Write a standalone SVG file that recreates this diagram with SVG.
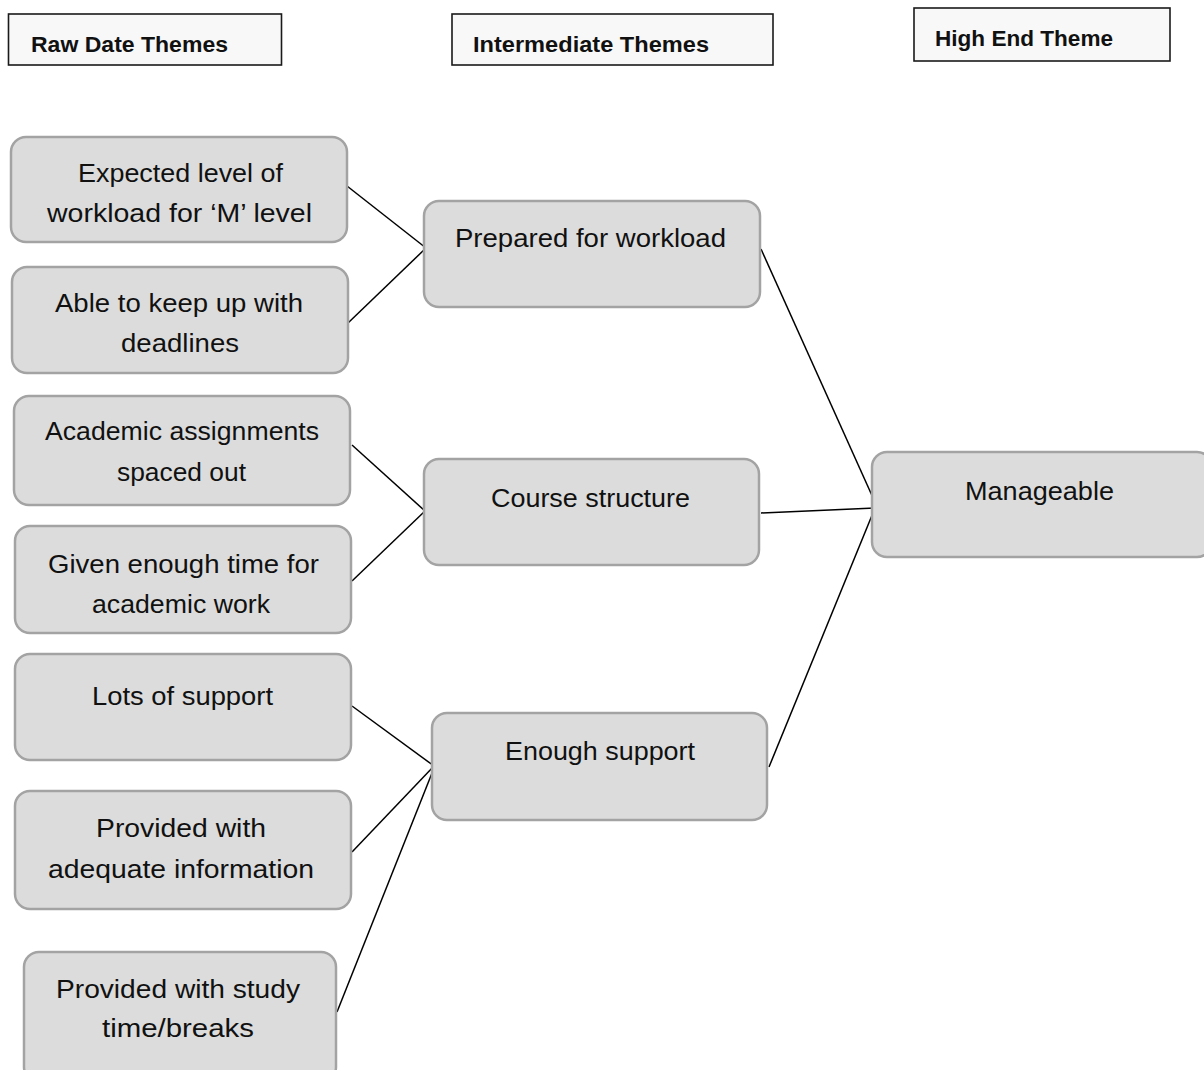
<svg xmlns="http://www.w3.org/2000/svg" width="1204" height="1070" viewBox="0 0 1204 1070">
<style>
.hdr{fill:#f8f8f8;stroke:#1a1a1a;stroke-width:1.6}
.hdrt{font-family:"Liberation Sans",Arial,sans-serif;font-weight:bold;font-size:22px;fill:#111}
.node{fill:#dcdcdc;stroke:#a3a3a3;stroke-width:2.5}
.t{font-family:"Liberation Sans",Arial,sans-serif;font-size:25px;fill:#111}
.c{stroke:#000;stroke-width:1.5;fill:none}
</style>
<rect width="1204" height="1070" fill="#fff"/>
<g id="h-raw"><rect class="hdr" x="8.5" y="14" width="273" height="51"/><text class="hdrt" x="31" y="52" textLength="197" lengthAdjust="spacingAndGlyphs">Raw Date Themes</text></g>
<g id="h-int"><rect class="hdr" x="452" y="14" width="321" height="51"/><text class="hdrt" x="473" y="52" textLength="236" lengthAdjust="spacingAndGlyphs">Intermediate Themes</text></g>
<g id="h-high"><rect class="hdr" x="914" y="8" width="256" height="53"/><text class="hdrt" x="935" y="46" textLength="178" lengthAdjust="spacingAndGlyphs">High End Theme</text></g>

<g id="connectors">
<line class="c" x1="347" y1="186" x2="426" y2="248"/>
<line class="c" x1="348" y1="323" x2="426" y2="248"/>
<line class="c" x1="352" y1="445" x2="425" y2="511"/>
<line class="c" x1="352" y1="581" x2="425" y2="511"/>
<line class="c" x1="352" y1="706" x2="434" y2="766"/>
<line class="c" x1="352" y1="852" x2="434" y2="766"/>
<line class="c" x1="337" y1="1012" x2="434" y2="768"/>
<line class="c" x1="761" y1="249" x2="874" y2="500"/>
<line class="c" x1="761" y1="513" x2="875" y2="508"/>
<line class="c" x1="769" y1="767" x2="875" y2="508"/>
</g>

<g id="n-expected"><rect class="node" x="11" y="137" width="336" height="105" rx="15"/>
<text class="t" x="78" y="182" textLength="205" lengthAdjust="spacingAndGlyphs">Expected level of</text>
<text class="t" x="47" y="222" textLength="265" lengthAdjust="spacingAndGlyphs">workload for ‘M’ level</text></g>
<g id="n-able"><rect class="node" x="12" y="267" width="336" height="106" rx="15"/>
<text class="t" x="55" y="312" textLength="248" lengthAdjust="spacingAndGlyphs">Able to keep up with</text>
<text class="t" x="121" y="352" textLength="118" lengthAdjust="spacingAndGlyphs">deadlines</text></g>
<g id="n-academic"><rect class="node" x="14" y="396" width="336" height="109" rx="15"/>
<text class="t" x="45" y="440" textLength="274" lengthAdjust="spacingAndGlyphs">Academic assignments</text>
<text class="t" x="117" y="481" textLength="129" lengthAdjust="spacingAndGlyphs">spaced out</text></g>
<g id="n-given"><rect class="node" x="15" y="526" width="336" height="107" rx="15"/>
<text class="t" x="48" y="573" textLength="271" lengthAdjust="spacingAndGlyphs">Given enough time for</text>
<text class="t" x="92" y="613" textLength="178" lengthAdjust="spacingAndGlyphs">academic work</text></g>
<g id="n-lots"><rect class="node" x="15" y="654" width="336" height="106" rx="15"/>
<text class="t" x="92" y="705" textLength="181" lengthAdjust="spacingAndGlyphs">Lots of support</text></g>
<g id="n-info"><rect class="node" x="15" y="791" width="336" height="118" rx="15"/>
<text class="t" x="96" y="837" textLength="170" lengthAdjust="spacingAndGlyphs">Provided with</text>
<text class="t" x="48" y="878" textLength="266" lengthAdjust="spacingAndGlyphs">adequate information</text></g>
<g id="n-study"><rect class="node" x="24" y="952" width="312" height="130" rx="15"/>
<text class="t" x="56" y="998" textLength="244" lengthAdjust="spacingAndGlyphs">Provided with study</text>
<text class="t" x="102" y="1037" textLength="152" lengthAdjust="spacingAndGlyphs">time/breaks</text></g>

<g id="n-prepared"><rect class="node" x="424" y="201" width="336" height="106" rx="15"/>
<text class="t" x="455" y="247" textLength="271" lengthAdjust="spacingAndGlyphs">Prepared for workload</text></g>
<g id="n-course"><rect class="node" x="424" y="459" width="335" height="106" rx="15"/>
<text class="t" x="491" y="507" textLength="199" lengthAdjust="spacingAndGlyphs">Course structure</text></g>
<g id="n-enough"><rect class="node" x="432" y="713" width="335" height="107" rx="15"/>
<text class="t" x="505" y="760" textLength="190" lengthAdjust="spacingAndGlyphs">Enough support</text></g>

<g id="n-manageable"><rect class="node" x="872" y="452" width="340" height="105" rx="15"/>
<text class="t" x="965" y="500" textLength="149" lengthAdjust="spacingAndGlyphs">Manageable</text></g>
</svg>
